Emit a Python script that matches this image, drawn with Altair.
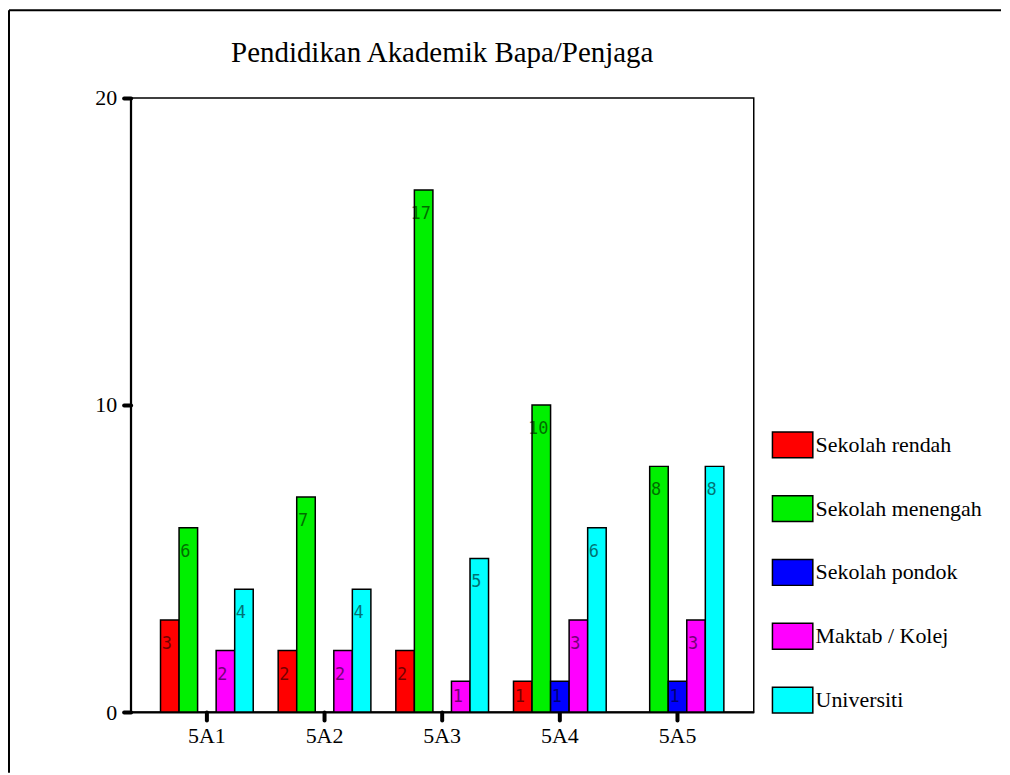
import altair as alt
import pandas as pd

classes = ["5A1", "5A2", "5A3", "5A4", "5A5"]
levels = ["Sekolah rendah", "Sekolah menengah", "Sekolah pondok", "Maktab / Kolej", "Universiti"]
rendah = [3, 2, 2, 1, 0]
menengah = [6, 7, 17, 10, 8]
pondok = [0, 0, 0, 1, 1]
maktab = [2, 2, 1, 3, 3]
universiti = [4, 4, 5, 6, 8]
colors = ["#ff0000", "#00f000", "#0000ff", "#ff00ff", "#00ffff"]
y_ticks = [0, 10, 20]
title_text = "Pendidikan Akademik Bapa/Penjaga"

rows = []
for lvl, vals in zip(levels, [rendah, menengah, pondok, maktab, universiti]):
    for c, v in zip(classes, vals):
        if v > 0:
            rows.append({"Kelas": c, "Pendidikan": lvl, "Bilangan": v})
df = pd.DataFrame(rows)

serif = "Liberation Serif"

x_enc = alt.X(
    "Kelas:N",
    scale=alt.Scale(domain=classes, paddingInner=0.212, paddingOuter=0.254),
    axis=alt.Axis(
        title=None, labelAngle=0, labelFont=serif, labelFontSize=22, labelColor="black",
        tickColor="black", tickSize=8, tickWidth=4, tickCap="round",
        domainColor="black", domainWidth=2, labelPadding=6, grid=False,
    ),
)
xo_enc = alt.XOffset(
    "Pendidikan:N", scale=alt.Scale(domain=levels, paddingInner=0, paddingOuter=0)
)
y_scale = alt.Scale(domain=[0, 20], nice=False)
y_axis = alt.Axis(
    title=None, values=y_ticks, labelFont=serif, labelFontSize=22, labelColor="black",
    tickColor="black", tickSize=7, tickWidth=4, tickCap="round",
    domainColor="black", domainWidth=2, labelPadding=7, grid=False,
)

bars = alt.Chart(df).mark_bar(stroke="black", strokeWidth=1.5, opacity=1).encode(
    x=x_enc,
    xOffset=xo_enc,
    y=alt.Y("Bilangan:Q", scale=y_scale, axis=y_axis),
    color=alt.Color(
        "Pendidikan:N",
        scale=alt.Scale(domain=levels, range=colors),
        legend=alt.Legend(
            title=None, orient="none", legendX=643, legendY=327,
            symbolType="M-1,-0.64L1,-0.64L1,0.64L-1,0.64Z", symbolSize=1640,
            symbolStrokeColor="black", symbolStrokeWidth=1.5, symbolOpacity=1,
            labelFont=serif, labelFontSize=22, labelColor="black", labelOffset=2,
            rowPadding=27, labelLimit=400,
        ),
    ),
)

labels = alt.Chart(df).transform_calculate(
    pos="max(datum.Bilangan - 0.78, datum.Bilangan / 2)"
).mark_text(
    baseline="middle", align="center", dx=-3, font="DejaVu Sans Mono",
    fontSize=17, fill="black", opacity=0.55,
).encode(
    x=x_enc,
    xOffset=xo_enc,
    y=alt.Y("pos:Q", scale=y_scale, axis=y_axis),
    text="Bilangan:Q",
)

one = pd.DataFrame({"k": [0]})
frame_left = alt.Chart(one).mark_rule(color="black", strokeWidth=2).encode(
    x=alt.value(-122), y=alt.value(-88), y2=alt.value(677)
)
frame_top = alt.Chart(one).mark_rule(color="black", strokeWidth=2).encode(
    x=alt.value(-122), x2=alt.value(873), y=alt.value(-88)
)
title = alt.Chart(one).mark_text(
    font=serif, fontSize=29, color="black", align="center", baseline="alphabetic"
).encode(
    x=alt.value(312.5), y=alt.value(-36), text=alt.value(title_text)
)

chart = alt.layer(frame_left, frame_top, title, bars, labels).properties(
    width=625,
    height=616,
    padding=0,
).configure(background="white").configure_view(stroke="black", strokeWidth=1.5)

chart.save("out.html", embed_options={"renderer": "svg", "actions": False})
